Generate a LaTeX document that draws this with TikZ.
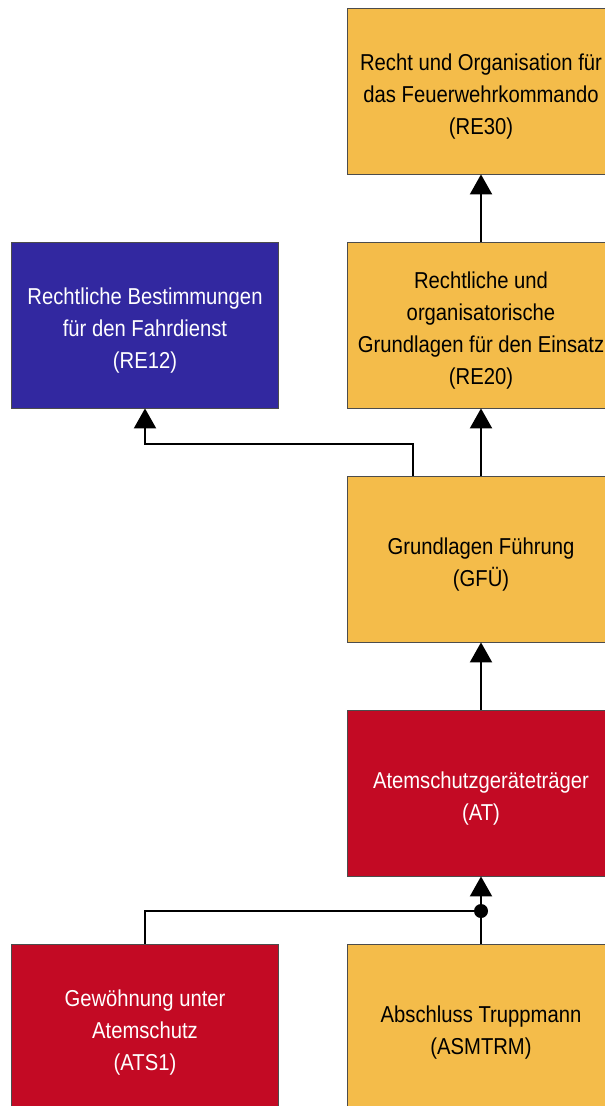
\documentclass[tikz,border=0pt]{standalone}
\usepackage{fontspec}
\setmainfont[FakeStretch=0.88]{Liberation Sans}
\usetikzlibrary{arrows.meta}
\definecolor{kursgelb}{RGB}{244,188,74}
\definecolor{kursblau}{RGB}{50,40,160}
\definecolor{kursrot}{RGB}{195,10,36}
\tikzstyle{kurs}=[draw=black!70, line width=0.8pt, minimum width=267pt, minimum height=166pt, inner sep=0]
\tikzstyle{gelb}=[kurs, fill=kursgelb]
\tikzstyle{blau}=[kurs, fill=kursblau]
\tikzstyle{rot}=[kurs, fill=kursrot]
% Beschriftung sitzt etwas unter der Mitte
\tikzstyle{titel}=[align=center, inner sep=0, yshift=-6pt, font=\fontsize{23}{32}\selectfont]
\tikzstyle{wtitel}=[titel, text=white]
\tikzstyle{pfeil}=[line width=2pt, -{Triangle[width=22pt,length=20pt]}]

\begin{document}
\begin{tikzpicture}[x=1pt, y=-1pt]
        \useasboundingbox (0,0) rectangle (605,1106);
        \clip (0,0) rectangle (605,1106);
        \node[gelb, label={[titel]center:Recht und Organisation für\\das Feuerwehrkommando\\(RE30)}] (RE30) at (481, 91) {};
        \node[blau, label={[wtitel]center:Rechtliche Bestimmungen\\für den Fahrdienst\\(RE12)}] (RE12) at (145, 325) {};
        \node[gelb, label={[titel]center:Rechtliche und\\organisatorische\\Grundlagen für den Einsatz\\(RE20)}] (RE20) at (481, 325) {};
        \node[gelb, label={[titel]center:Grundlagen Führung\\(GFÜ)}] (GFU) at (481, 559) {};
        \node[rot, label={[wtitel]center:Atemschutzgeräteträger\\(AT)}] (AT) at (481, 793) {};
        \node[rot, label={[wtitel]center:Gewöhnung unter\\Atemschutz\\(ATS1)}] (ATS1) at (145, 1027) {};
        \node[gelb, label={[titel]center:Abschluss Truppmann\\(ASMTRM)}] (ASMTRM) at (481, 1027) {};
        \coordinate (knick) at (413, 444);
        \coordinate (punkt) at (481, 911);
        \draw[pfeil] (RE20.north) -- (RE30.south);
        \draw[pfeil] (GFU.north) -- (RE20.south);
        \draw[pfeil] (GFU.north -| knick) -- (knick) -| (RE12.south);
        \draw[pfeil] (AT.north) -- (GFU.south);
        \draw[pfeil] (ASMTRM.north) -- (AT.south);
        \draw[line width=2pt] (ATS1.north) |- (punkt);
        \fill (punkt) circle (7pt);
    \end{tikzpicture}
\end{document}
